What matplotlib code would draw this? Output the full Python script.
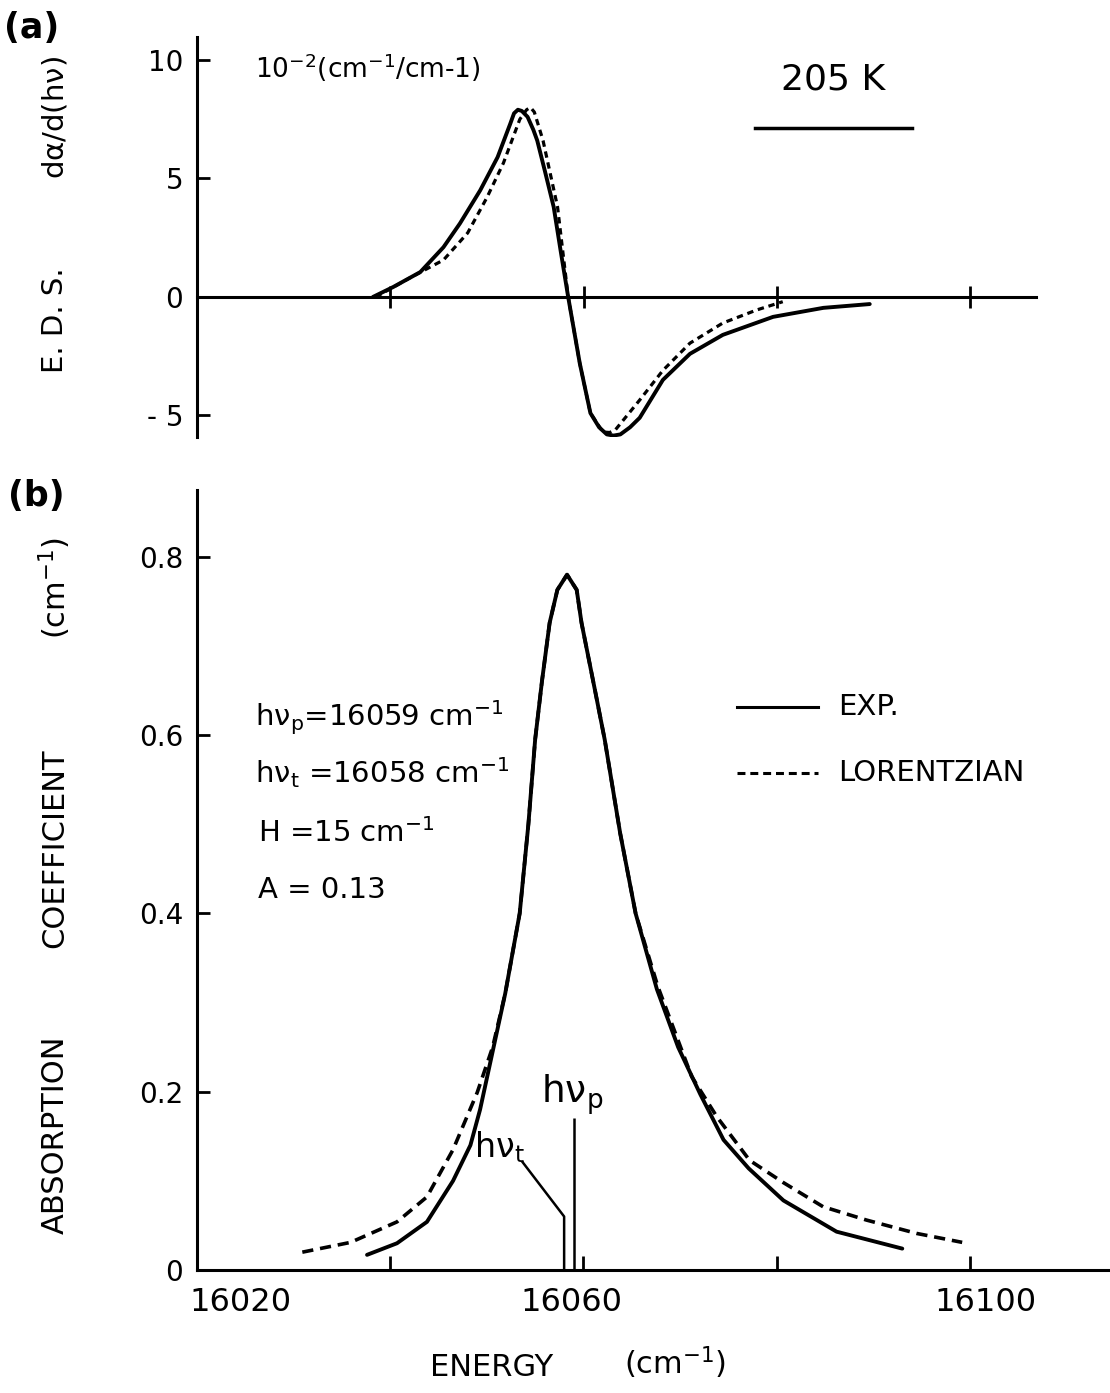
import matplotlib
matplotlib.use("Agg")
import matplotlib.pyplot as plt
from matplotlib.lines import Line2D
from matplotlib.transforms import ScaledTranslation

plt.rcParams['font.family'] = ['DejaVu Sans']
plt.rcParams['mathtext.default'] = 'regular'

# ---------------- data ----------------
# (a) E.D.S. spectrum, units of 1e-2 (cm^-1 / cm^-1)
a_exp_x = [16038.2, 16040.3, 16043.1, 16045.5, 16047.2, 16049.3, 16051.1, 16052.4, 16052.8, 16053.2,
           16053.6, 16054.2, 16054.8, 16055.2, 16056.0, 16056.9, 16057.6, 16058.4, 16059.6,
           16060.7, 16061.6, 16062.4, 16063.1, 16063.8, 16064.8, 16065.8, 16068.2, 16071.0,
           16074.4, 16079.6, 16084.8, 16089.6]
a_exp_y = [0.0, 0.42, 1.05, 2.1, 3.1, 4.5, 5.9, 7.3, 7.75, 7.9,
           7.85, 7.6, 7.05, 6.6, 5.3, 3.8, 2.0, 0.0, -2.8,
           -4.9, -5.5, -5.8, -5.85, -5.8, -5.5, -5.1, -3.5, -2.4,
           -1.6, -0.84, -0.46, -0.3]

a_lor_x = [16038.5, 16042.0, 16045.5, 16048.0, 16050.0, 16051.7, 16053.4, 16054.1, 16054.5,
           16054.9, 16055.8, 16057.3, 16058.4, 16059.6, 16060.7, 16062.0, 16062.7, 16063.3,
           16065.8, 16068.2, 16071.0, 16074.4, 16077.9, 16080.6]
a_lor_y = [0.0, 0.8, 1.56, 2.7, 4.2, 5.65, 7.5, 7.9, 8.0,
           7.8, 6.6, 3.8, 0.0, -2.8, -4.9, -5.7, -5.72, -5.6,
           -4.35, -3.1, -1.95, -1.1, -0.55, -0.2]

# (b) absorption coefficient (cm^-1)
b_exp_x = [16037.6, 16040.7, 16043.8, 16046.5, 16048.3, 16049.3, 16050.4, 16051.9, 16053.4,
           16054.3, 16055.0, 16055.7, 16056.5, 16057.3, 16058.3, 16059.3, 16059.8, 16061.2,
           16062.2, 16063.8, 16065.4, 16067.6, 16069.8, 16072.1, 16074.5, 16077.1, 16080.7,
           16086.2, 16093.0]
b_exp_y = [0.017, 0.030, 0.054, 0.10, 0.14, 0.18, 0.235, 0.31, 0.40,
           0.50, 0.595, 0.66, 0.726, 0.763, 0.78, 0.763, 0.726, 0.65,
           0.595, 0.49, 0.40, 0.315, 0.25, 0.197, 0.146, 0.114, 0.078,
           0.043, 0.024]

b_lor_x = [16030.9, 16035.9, 16040.7, 16043.8, 16046.5, 16049.0, 16050.6, 16051.9, 16053.4,
           16054.3, 16055.0, 16055.7, 16056.5, 16057.3, 16058.3, 16059.3, 16059.8, 16061.2,
           16062.2, 16063.8, 16065.4, 16067.7, 16071.2, 16073.8, 16077.2, 16080.7, 16084.8,
           16089.3, 16094.5, 16099.2]
b_lor_y = [0.020, 0.031, 0.054, 0.082, 0.135, 0.199, 0.25, 0.31, 0.40,
           0.50, 0.595, 0.66, 0.726, 0.763, 0.78, 0.763, 0.726, 0.65,
           0.595, 0.49, 0.40, 0.318, 0.217, 0.172, 0.123, 0.098, 0.071,
           0.056, 0.041, 0.031]

hv_p = 16059
hv_t = 16058

a_yticks = [-5, 0, 5, 10]
a_yticklabels = ['- 5', '0', '5', '10']
a_xticks = [16040, 16060, 16080, 16100]
b_yticks = [0, 0.2, 0.4, 0.6, 0.8]
b_yticklabels = ['0', '0.2', '0.4', '0.6', '0.8']
b_xticks_major = [16020, 16060, 16100]
b_xticks_minor = [16040, 16080]

# ---------------- figure ----------------
W, H = 1110, 1393
fig = plt.figure(figsize=(W / 100, H / 100), dpi=100)


def fx(px):
    return px / W


def fy(py):
    return 1 - py / H


LW_SPINE = 2.2
LW_CURVE = 2.8

# ---- panel (a) ----
axa = fig.add_axes([fx(197), fy(437), fx(1036) - fx(197), (437 - 37) / H])
axa.set_xlim(16020, 16106.8)
axa.set_ylim(-5.91, 10.97)
axa.plot(a_exp_x, a_exp_y, color='black', lw=LW_CURVE, solid_capstyle='round',
         solid_joinstyle='round')
axa.plot(a_lor_x, a_lor_y, color='black', lw=2.3, linestyle=(0, (2.0, 1.5)))
for s in ['top', 'right']:
    axa.spines[s].set_visible(False)
axa.spines['left'].set_linewidth(LW_SPINE)
axa.spines['bottom'].set_position(('data', 0))
axa.spines['bottom'].set_linewidth(LW_SPINE)
axa.set_yticks(a_yticks)
axa.set_yticklabels(a_yticklabels, fontsize=20)
axa.set_xticks(a_xticks)
axa.set_xticklabels([])
axa.tick_params(axis='y', direction='in', length=9, width=2, pad=10)
axa.tick_params(axis='x', direction='inout', length=16, width=2)

# ---- panel (b) ----
axb = fig.add_axes([fx(197), fy(1270), fx(1110) - fx(197), (1270 - 490) / H])
axb.set_xlim(16020, 16114.5)
axb.set_ylim(0, 0.875)
axb.plot(b_exp_x, b_exp_y, color='black', lw=LW_CURVE, solid_capstyle='round',
         solid_joinstyle='round')
axb.plot(b_lor_x, b_lor_y, color='black', lw=2.6, linestyle=(0, (3.1, 1.9)))
for s in ['top', 'right']:
    axb.spines[s].set_visible(False)
axb.spines['left'].set_linewidth(LW_SPINE)
axb.spines['bottom'].set_linewidth(LW_SPINE)
axb.set_yticks(b_yticks)
axb.set_yticklabels(b_yticklabels, fontsize=20)
axb.set_xticks(b_xticks_major)
axb.set_xticklabels([str(v) for v in b_xticks_major], fontsize=23)
axb.set_xticks(b_xticks_minor, minor=True)
axb.tick_params(axis='y', direction='in', length=9, width=2, pad=10)
axb.tick_params(axis='x', which='both', direction='in', length=10, width=2, pad=12)
shifts = [0.43, -0.12, 0.16]
for lab, dx in zip(axb.get_xticklabels(), shifts):
    lab.set_transform(lab.get_transform() + ScaledTranslation(dx, 0, fig.dpi_scale_trans))

# hν markers
axb.vlines(hv_p, 0, 0.17, color='black', lw=1.8)
axb.plot([hv_t, hv_t, hv_t - 4.3], [0.0, 0.06, 0.121], color='black', lw=1.8)
axb.text(hv_p - 0.2, 0.172, r'h$\nu_{\mathrm{p}}$', fontsize=27, ha='center', va='bottom')
axb.text(hv_t - 4.1, 0.118, r'h$\nu_{\mathrm{t}}$', fontsize=24, ha='right', va='bottom')

# ---------------- texts ----------------
fig.text(fx(4), fy(28), '(a)', fontsize=25, fontweight='bold', va='center', ha='left')
fig.text(fx(8), fy(496), '(b)', fontsize=25, fontweight='bold', va='center', ha='left')

fig.text(fx(255), fy(68), r'10$^{-2}$(cm$^{-1}$/cm-1)', fontsize=19, ha='left', va='center')
fig.text(fx(833), fy(80), '205 K', fontsize=26, ha='center', va='center')
fig.add_artist(Line2D([fx(755), fx(912)], [fy(128), fy(128)], color='black', lw=2.5,
                      transform=fig.transFigure))

fig.text(fx(55), fy(320), 'E. D. S.', fontsize=21, rotation=90, ha='center', va='center')
fig.text(fx(55), fy(118), r'd$\alpha$/d(h$\nu$)', fontsize=21, rotation=90, ha='center', va='center')
fig.text(fx(55), fy(1135), 'ABSORPTION', fontsize=22, rotation=90, ha='center', va='center')
fig.text(fx(55), fy(848), 'COEFFICIENT', fontsize=22, rotation=90, ha='center', va='center')
fig.text(fx(55), fy(588), r'(cm$^{-1}$)', fontsize=22, rotation=90, ha='center', va='center')
fig.text(fx(492), fy(1368), 'ENERGY', fontsize=22, ha='center', va='center')
fig.text(fx(675), fy(1363), r'(cm$^{-1}$)', fontsize=22, ha='center', va='center')

txt_x = fx(255)
fig.text(txt_x, fy(718), r'h$\nu_{\mathrm{p}}$=16059 cm$^{-1}$', fontsize=21, ha='left', va='center')
fig.text(txt_x, fy(773), r'h$\nu_{\mathrm{t}}$ =16058 cm$^{-1}$', fontsize=21, ha='left', va='center')
fig.text(fx(258), fy(833), r'H =15 cm$^{-1}$', fontsize=21, ha='left', va='center')
fig.text(fx(258), fy(890), 'A = 0.13', fontsize=21, ha='left', va='center')

# legend
fig.add_artist(Line2D([fx(737), fx(818)], [fy(707), fy(707)], color='black', lw=2.2,
                      transform=fig.transFigure))
fig.add_artist(Line2D([fx(737), fx(818)], [fy(773), fy(773)], color='black', lw=2.2,
                      linestyle=(0, (2.6, 1.6)), transform=fig.transFigure))
fig.text(fx(838), fy(707), 'EXP.', fontsize=21, ha='left', va='center')
fig.text(fx(838), fy(773), 'LORENTZIAN', fontsize=21, ha='left', va='center')

fig.savefig('out.png', dpi=100)
